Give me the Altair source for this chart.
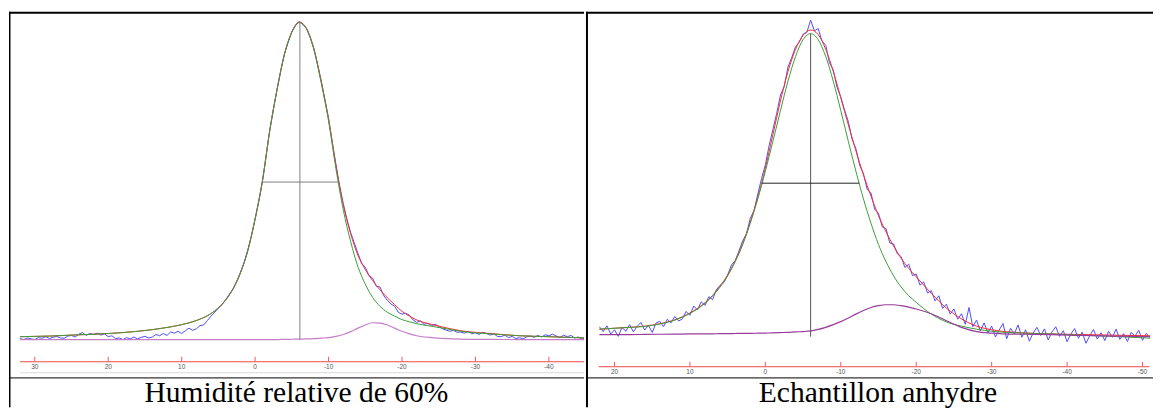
import altair as alt
import pandas as pd

# ================= LEFT PANEL : Humidité relative de 60% =================
left_caption = "Humidité relative de 60%"
left_ticks = [30, 20, 10, 0, -10, -20, -30, -40]
left_xdomain = [33.51, -44.78]
left_ydomain = [-21.38, 104.40]
left_axis_span = [32.0, -44.8]

left_fit_ppm = [32, 28, 24, 20, 16, 12, 10, 8, 6, 5,
                4, 3, 2, 1, 0, -1, -2, -3, -4, -5,
                -6, -7, -8, -9, -10, -11, -12, -13, -14, -15,
                -16, -17, -18, -19, -20, -21, -22, -24, -26, -28,
                -32, -36, -40, -45]
left_green = [0.9, 1.1, 1.5, 1.9, 2.6, 3.8, 4.7, 6.0, 8.2, 10.0,
              12.5, 16.0, 21.0, 28.0, 38.0, 50.0, 66.0, 79.0, 90.0, 97.0,
              100.0, 98.0, 91.5, 81.0, 69.0, 54.0, 41.0, 31.0, 23.0, 17.5,
              13.3, 10.5, 8.6, 7.4, 6.3, 5.6, 5.0, 4.2, 3.4, 2.6,
              1.8, 1.2, 0.9, 0.5]
left_magenta = [0, 0, 0, 0, 0, 0, 0, 0, 0, 0,
                0, 0, 0, 0, 0, 0, 0, 0, 0.05, 0.1,
                0.15, 0.2, 0.3, 0.45, 0.6, 1.0, 1.6, 2.5, 3.6, 4.6,
                5.3, 5.2, 4.6, 3.6, 2.6, 1.8, 1.2, 0.6, 0.3, 0.15,
                0.05, 0, 0, 0]
left_red = [0.9, 1.1, 1.5, 1.9, 2.6, 3.8, 4.7, 6.0, 8.2, 10.0,
            12.5, 16.0, 21.0, 28.0, 38.0, 50.0, 66.0, 79.0, 90.1, 97.1,
            100.2, 98.2, 91.8, 81.5, 69.6, 55.0, 42.6, 33.5, 26.6, 22.1,
            18.6, 15.7, 13.2, 11.0, 8.9, 7.4, 6.2, 4.8, 3.7, 2.8,
            1.9, 1.2, 0.9, 0.5]

# measured spectrum (blue), sampled every 0.5 ppm starting at 32 ppm
left_blue_start = 32.0
left_blue = [0.3, 0.0, 0.5, 0.2, 0.0, 0.6, 0.4, 0.9, 0.3, 0.7,
             1.0, 0.5, 0.4, 1.1, 1.3, 0.8, 1.7, 2.2, 1.3, 1.9,
             1.6, 2.0, 1.4, 1.8, 0.9, 1.2, 0.3, 0.5, 0.0, 0.6,
             0.2, 0.8, 0.2, 0.7, 1.0, 0.5, 0.8, 1.6, 1.2, 1.9,
             1.3, 2.4, 2.0, 2.6, 1.9, 2.8, 3.6, 2.9, 3.4, 4.4,
             4.6, 6.0, 7.4, 8.6, 9.9, 11.0, 12.6, 14.3, 16.0, 18.4,
             21.2, 24.3, 28.2, 32.8, 38.1, 43.8, 50.1, 58.0, 66.2, 72.7,
             79.1, 84.9, 90.2, 93.8, 97.1, 99.0, 100.3, 99.5, 98.1, 95.3,
             91.9, 86.8, 81.6, 75.6, 69.8, 62.4, 55.3, 48.6, 42.9, 38.0,
             33.8, 30.5, 27.2, 24.1, 22.8, 20.2, 19.4, 16.8, 16.6, 13.9,
             12.4, 11.2, 10.5, 8.6, 8.0, 8.3, 7.7, 6.2, 5.4, 5.9,
             4.8, 5.1, 4.4, 4.8, 4.2, 3.4, 3.0, 2.6, 2.9, 2.3,
             2.4, 2.0, 2.6, 1.8, 2.2, 1.6, 2.3, 1.9, 1.4, 1.8,
             1.0, 0.9, 1.4, 0.6, 1.0, 0.3, 0.6, 0.2, 0.9, 1.1,
             0.7, 1.3, 0.8, 1.5, 1.2, 1.7, 1.1, 0.6, 1.4, 0.9,
             1.3, 0.5, 0.8, 0.2, 0.4]

left_peak_ppm = -6.1
left_peak_range = [0.0, 100.0]
left_fwhm_ppm = [-0.95, -11.3]
left_fwhm_level = 49.7

# ================= RIGHT PANEL : Echantillon anhydre =================
right_caption = "Echantillon anhydre"
right_ticks = [20, 10, 0, -10, -20, -30, -40, -50]
right_xdomain = [23.78, -51.39]
right_ydomain = [-24.17, 108.28]
right_axis_span = [22.1, -50.9]

right_fit_ppm = [22, 20, 18, 16, 14, 12, 10, 9, 8, 7,
                 6, 5, 4, 3, 2, 1, 0, -1, -2, -3,
                 -4, -5, -6, -7, -8, -9, -10, -11, -12, -13,
                 -14, -15, -16, -17, -18, -19, -20, -22, -24, -26,
                 -28, -30, -34, -38, -42, -46, -51]
right_green = [1.8, 2.1, 2.4, 2.7, 3.5, 4.8, 7.0, 8.5, 10.4, 12.8,
               15.8, 19.5, 24.2, 29.9, 37.0, 45.1, 54.3, 64.2, 74.4, 84.2,
               92.4, 98.0, 100.0, 98.0, 92.4, 84.2, 74.4, 64.2, 54.3, 45.1,
               37.0, 29.9, 24.2, 19.5, 15.8, 12.9, 10.7, 6.8, 4.2, 2.8,
               1.8, 1.1, 0.5, 0.2, -0.2, -0.6, -1.2]
right_magenta = [0, 0, 0, 0.05, 0.1, 0.15, 0.2, 0.2, 0.25, 0.25,
                 0.3, 0.3, 0.35, 0.4, 0.4, 0.45, 0.5, 0.55, 0.65, 0.75,
                 0.9, 1.0, 1.2, 1.7, 2.4, 3.3, 4.3, 5.5, 6.8, 8.0,
                 9.0, 9.6, 9.9, 9.9, 9.6, 9.1, 8.5, 6.9, 4.6, 2.4,
                 1.0, 0.5, 0.1, 0.0, -0.3, -0.5, -0.7]
right_red = [1.8, 2.1, 2.4, 2.8, 3.6, 4.9, 7.2, 8.7, 10.6, 13.0,
             16.1, 19.8, 24.5, 30.3, 37.4, 45.6, 55.3, 66.5, 77.6, 87.4,
             94.8, 99.4, 101.2, 99.7, 94.8, 87.5, 78.7, 69.7, 61.1, 53.1,
             46.0, 39.5, 34.1, 29.4, 25.4, 22.0, 19.2, 13.7, 8.8, 5.2,
             2.8, 1.6, 0.6, 0.2, 0.0, -0.2, -0.4]

right_blue_start = 22.0
right_blue = [2.6, 1.0, 2.9, 0.2, 1.6, -0.6, 2.4, 1.1, 3.3, 0.9,
              2.7, 4.0, 1.5, 3.1, 0.7, 3.8, 4.4, 2.6, 5.1, 3.9,
              6.0, 4.5, 5.2, 7.7, 6.4, 9.5, 8.2, 10.9, 9.7, 12.6,
              11.6, 14.9, 16.4, 17.3, 19.8, 23.1, 24.5, 27.8, 31.2, 33.5,
              38.6, 41.2, 46.7, 51.9, 56.4, 62.8, 68.1, 73.5, 79.6, 82.4,
              88.9, 92.1, 95.6, 97.2, 99.8, 100.4, 104.5, 100.9, 101.7, 97.6,
              96.1, 90.3, 87.9, 82.2, 78.9, 74.6, 70.8, 64.9, 61.8, 56.3,
              53.5, 48.2, 47.1, 41.6, 40.3, 35.8, 35.2, 30.4, 30.1, 26.8,
              25.9, 22.3, 23.4, 19.6, 20.1, 16.4, 17.5, 13.8, 14.6, 11.2,
              12.9, 8.7, 10.1, 6.8, 8.5, 5.1, 6.9, 3.4, 9.0, 2.6,
              4.8, 1.2, 3.9, 0.6, 2.8, -0.8, 1.5, 3.7, -1.4, 2.1,
              0.2, 3.2, -0.9, 1.6, -2.2, 0.5, 2.4, -0.3, 1.9, -1.8,
              0.9, 2.6, -0.6, 1.3, -2.4, 0.2, 2.0, -1.2, 0.8, -2.9,
              -0.4, 1.7, -1.5, 0.6, -2.0, 1.1, -0.9, 1.8, -1.6, 0.3,
              -2.3, 0.7, -0.5, 1.4, -1.9, 0.4, -1.0]

right_peak_ppm = -6.0
right_peak_range = [-0.7, 100.0]
right_fwhm_ppm = [0.44, -12.45]
right_fwhm_level = 50.3

PANEL_H = 400


def panel(p):
    W = p["width"]
    xs = alt.Scale(domain=p["xdomain"], nice=False, zero=False)
    ys = alt.Scale(domain=p["ydomain"], nice=False, zero=False)
    X = lambda f: alt.X(f, type="quantitative", scale=xs, axis=None)
    Y = lambda f: alt.Y(f, type="quantitative", scale=ys, axis=None)

    fits = pd.DataFrame({"ppm": p["fit_ppm"], "green": p["green"],
                         "red": p["red"], "magenta": p["magenta"]})
    blue = pd.DataFrame({"ppm": [p["blue_start"] - 0.5 * i for i in range(len(p["blue"]))],
                         "v": p["blue"]})
    ticks = pd.DataFrame({"t": p["ticks"], "lab": [str(t) for t in p["ticks"]]})
    span = pd.DataFrame({"a": [p["axis_span"][0]], "b": [p["axis_span"][1]]})
    vline = pd.DataFrame({"x": [p["peak_ppm"]], "y": [p["peak_range"][0]], "y2": [p["peak_range"][1]]})
    hline = pd.DataFrame({"x": [p["fwhm_ppm"][0]], "x2": [p["fwhm_ppm"][1]], "y": [p["fwhm_level"]]})
    one = pd.DataFrame({"c": [p["caption"]]})

    layers = []
    layers.append(alt.Chart(blue).mark_line(color="#4d4dff", strokeWidth=1, clip=True)
                  .encode(x=X("ppm"), y=Y("v")))
    layers.append(alt.Chart(fits).mark_line(color="#ff2b2b", strokeWidth=1, clip=True, interpolate="monotone")
                  .encode(x=X("ppm"), y=Y("red")))
    layers.append(alt.Chart(fits).mark_line(color="#3c9e3c", strokeWidth=1, clip=True, interpolate="monotone")
                  .encode(x=X("ppm"), y=Y("green")))
    layers.append(alt.Chart(fits).mark_line(color=p["mag_color"], strokeWidth=1.2, clip=True, interpolate="monotone")
                  .encode(x=X("ppm"), y=Y("magenta")))
    layers.append(alt.Chart(vline).mark_rule(color=p["vcolor"], strokeWidth=1)
                  .encode(x=X("x"), y=Y("y"), y2="y2"))
    layers.append(alt.Chart(hline).mark_rule(color=p["hcolor"], strokeWidth=1)
                  .encode(x=X("x"), x2="x2", y=Y("y")))
    # red ppm axis
    layers.append(alt.Chart(span).mark_rule(color="#f24646", strokeWidth=1)
                  .encode(x=X("a"), x2="b", y=alt.value(p["axis_y"])))
    layers.append(alt.Chart(ticks).mark_rule(color="#f25c5c", strokeWidth=1)
                  .encode(x=X("t"), y=alt.value(p["axis_y"] - 5), y2=alt.value(p["axis_y"])))
    layers.append(alt.Chart(ticks).mark_text(fontSize=6.5, color="#555555", font="Liberation Sans",
                                             baseline="middle", align="center")
                  .encode(x=X("t"), y=alt.value(p["axis_y"] + 5.5), text="lab:N"))
    if p.get("gray_y"):
        layers.append(alt.Chart(span).mark_rule(color="#d9d9d9", strokeWidth=1)
                      .encode(x=X("a"), x2="b", y=alt.value(p["gray_y"])))
    # table borders
    layers.append(alt.Chart(one).mark_rule(color="black", strokeWidth=2)
                  .encode(x=alt.value(0), x2=alt.value(W), y=alt.value(4)))
    layers.append(alt.Chart(one).mark_rule(color="black", strokeWidth=1)
                  .encode(x=alt.value(0), x2=alt.value(W), y=alt.value(370.5)))
    layers.append(alt.Chart(one).mark_rule(color="black", strokeWidth=p["vborder_w"])
                  .encode(x=alt.value(p["vborder_x"]), y=alt.value(3), y2=alt.value(PANEL_H)))
    # caption
    layers.append(alt.Chart(one).mark_text(font="Liberation Serif", fontSize=29.6, color="black",
                                           align="center", baseline="alphabetic")
                  .encode(x=alt.value(p["cap_x"]), y=alt.value(395), text="c:N"))
    return alt.layer(*layers).properties(width=W, height=PANEL_H)


left = panel(dict(caption=left_caption, ticks=left_ticks, xdomain=left_xdomain, ydomain=left_ydomain,
                  axis_span=left_axis_span, fit_ppm=left_fit_ppm, green=left_green, red=left_red,
                  magenta=left_magenta, blue_start=left_blue_start, blue=left_blue,
                  peak_ppm=left_peak_ppm, peak_range=left_peak_range, fwhm_ppm=left_fwhm_ppm,
                  fwhm_level=left_fwhm_level, mag_color="#c47ec8", vcolor="#7f7f7f", hcolor="#7f7f7f",
                  axis_y=354.3, gray_y=365.3, vborder_x=0.75, vborder_w=1.5, cap_x=288.4, width=577))
right = panel(dict(caption=right_caption, ticks=right_ticks, xdomain=right_xdomain, ydomain=right_ydomain,
                   axis_span=right_axis_span, fit_ppm=right_fit_ppm, green=right_green, red=right_red,
                   magenta=right_magenta, blue_start=right_blue_start, blue=right_blue,
                   peak_ppm=right_peak_ppm, peak_range=right_peak_range, fwhm_ppm=right_fwhm_ppm,
                   fwhm_level=right_fwhm_level, mag_color="#9a3c9e", vcolor="#555555", hcolor="#222222",
                   axis_y=359.3, gray_y=None, vborder_x=1, vborder_w=2, cap_x=293, width=569))

chart = alt.hconcat(left, right, spacing=0, padding=0).configure_view(stroke=None)
chart.save("out.html", embed_options={"renderer": "svg", "actions": False})
